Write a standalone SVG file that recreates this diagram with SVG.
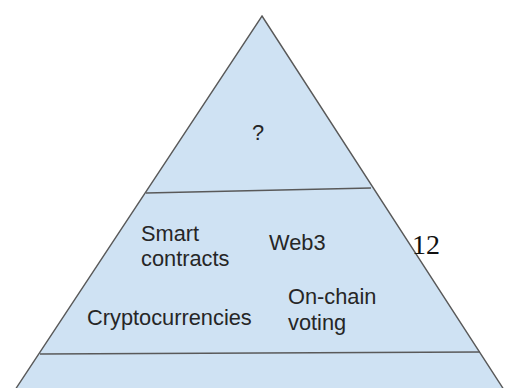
<svg xmlns="http://www.w3.org/2000/svg" width="508" height="388" viewBox="0 0 508 388">
<style>
.shape{fill:#cfe2f3;stroke:#595959;stroke-width:1.4;stroke-linejoin:miter}
.div{stroke:#595959;stroke-width:1.4;fill:none}
.lbl{font-family:"Liberation Sans",Arial,sans-serif;font-size:21.8px;fill:#262626}
.num{font-family:"Liberation Serif","Times New Roman",serif;font-size:28px;fill:#111111}
</style>
<rect width="508" height="388" fill="#ffffff"/>
<g id="pyramid">
<polygon class="shape" points="262,16 508,396 11,396"/>
</g>
<g id="dividers">
<line class="div" x1="146" y1="193" x2="371" y2="188"/>
<line class="div" x1="40" y1="354" x2="480" y2="352"/>
</g>
<g id="tier-top">
<text class="lbl" x="252" y="140">?</text>
</g>
<g id="tier-middle">
<text class="lbl" x="141" y="241">Smart</text>
<text class="lbl" x="141" y="266">contracts</text>
<text class="lbl" x="269" y="250">Web3</text>
<text class="lbl" x="87" y="325">Cryptocurrencies</text>
<text class="lbl" x="288" y="304">On-chain</text>
<text class="lbl" x="288" y="330">voting</text>
</g>
<g id="tier-bottom"></g>
<g id="label-12">
<text class="num" x="412" y="254">12</text>
</g>
</svg>
